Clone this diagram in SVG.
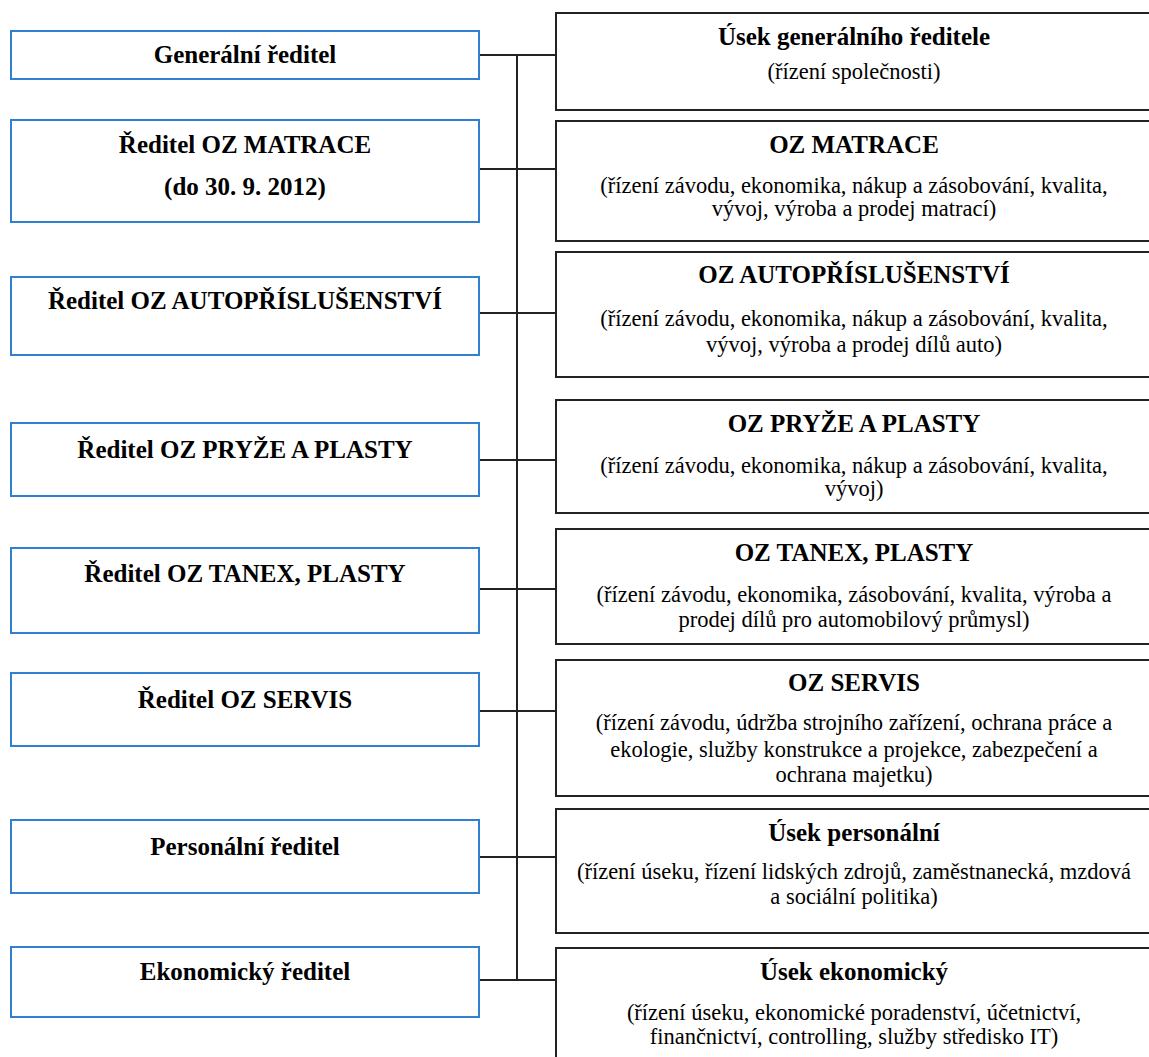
<svg xmlns="http://www.w3.org/2000/svg" width="1149" height="1057" viewBox="0 0 1149 1057" font-family="'Liberation Serif', Tinos, 'Times New Roman', Times, serif">
<style>
.lbox{fill:#fff;stroke:#2f80d2;stroke-width:2}
.rbox{fill:#fff;stroke:#222;stroke-width:2}
.conn{fill:none;stroke:#222;stroke-width:2}
text{font-family:'Liberation Serif', Tinos, 'Times New Roman', Times, serif;fill:#000;text-anchor:middle}
.t{font-weight:bold;font-size:25px}
.s{font-weight:normal;font-size:22.5px}
</style>
<rect width="1149" height="1057" fill="#fff"/>
<g id="connectors">
<line class="conn" x1="517" y1="55" x2="517" y2="980"/>
<line class="conn" x1="479" y1="55" x2="556" y2="55"/>
<line class="conn" x1="479" y1="169" x2="556" y2="169"/>
<line class="conn" x1="479" y1="313" x2="556" y2="313"/>
<line class="conn" x1="479" y1="460" x2="556" y2="460"/>
<line class="conn" x1="479" y1="589" x2="556" y2="589"/>
<line class="conn" x1="479" y1="711" x2="556" y2="711"/>
<line class="conn" x1="479" y1="857" x2="556" y2="857"/>
<line class="conn" x1="479" y1="980" x2="556" y2="980"/>
</g>
<g id="l1"><rect class="lbox" x="11" y="31" width="468" height="48"/><text class="t" x="245" y="63">Generální ředitel</text></g>
<g id="l2"><rect class="lbox" x="11" y="120" width="468" height="102"/><text class="t" x="245" y="153">Ředitel OZ MATRACE</text><text class="t" x="245" y="195">(do 30. 9. 2012)</text></g>
<g id="l3"><rect class="lbox" x="11" y="277" width="468" height="78"/><text class="t" x="245" y="309">Ředitel OZ AUTOPŘÍSLUŠENSTVÍ</text></g>
<g id="l4"><rect class="lbox" x="11" y="423" width="468" height="73"/><text class="t" x="245" y="458">Ředitel OZ PRYŽE A PLASTY</text></g>
<g id="l5"><rect class="lbox" x="11" y="548" width="468" height="85"/><text class="t" x="245" y="582">Ředitel OZ TANEX, PLASTY</text></g>
<g id="l6"><rect class="lbox" x="11" y="673" width="468" height="73"/><text class="t" x="245" y="708">Ředitel OZ SERVIS</text></g>
<g id="l7"><rect class="lbox" x="11" y="820" width="468" height="73"/><text class="t" x="245" y="855">Personální ředitel</text></g>
<g id="l8"><rect class="lbox" x="11" y="947" width="468" height="70"/><text class="t" x="245" y="980">Ekonomický ředitel</text></g>
<g id="r1"><rect class="rbox" x="556" y="13" width="600" height="97"/><text class="t" x="854" y="45">Úsek generálního ředitele</text><text class="s" x="854" y="79">(řízení společnosti)</text></g>
<g id="r2"><rect class="rbox" x="556" y="121" width="600" height="120"/><text class="t" x="854" y="153">OZ MATRACE</text><text class="s" x="854" y="193">(řízení závodu, ekonomika, nákup a zásobování, kvalita,</text><text class="s" x="854" y="216">vývoj, výroba a prodej matrací)</text></g>
<g id="r3"><rect class="rbox" x="556" y="252" width="600" height="125"/><text class="t" x="854" y="283">OZ AUTOPŘÍSLUŠENSTVÍ</text><text class="s" x="854" y="326">(řízení závodu, ekonomika, nákup a zásobování, kvalita,</text><text class="s" x="854" y="352">vývoj, výroba a prodej dílů auto)</text></g>
<g id="r4"><rect class="rbox" x="556" y="400" width="600" height="113"/><text class="t" x="854" y="432">OZ PRYŽE A PLASTY</text><text class="s" x="854" y="473">(řízení závodu, ekonomika, nákup a zásobování, kvalita,</text><text class="s" x="854" y="496">vývoj)</text></g>
<g id="r5"><rect class="rbox" x="556" y="529" width="600" height="115"/><text class="t" x="854" y="561">OZ TANEX, PLASTY</text><text class="s" x="854" y="602">(řízení závodu, ekonomika, zásobování, kvalita, výroba a</text><text class="s" x="854" y="627">prodej dílů pro automobilový průmysl)</text></g>
<g id="r6"><rect class="rbox" x="556" y="660" width="600" height="136"/><text class="t" x="854" y="691">OZ SERVIS</text><text class="s" x="854" y="730">(řízení závodu, údržba strojního zařízení, ochrana práce a</text><text class="s" x="854" y="757">ekologie, služby konstrukce a projekce, zabezpečení a</text><text class="s" x="854" y="782">ochrana majetku)</text></g>
<g id="r7"><rect class="rbox" x="556" y="809" width="600" height="124"/><text class="t" x="854" y="841">Úsek personální</text><text class="s" x="854" y="879">(řízení úseku, řízení lidských zdrojů, zaměstnanecká, mzdová</text><text class="s" x="854" y="904">a sociální politika)</text></g>
<g id="r8"><rect class="rbox" x="556" y="948" width="600" height="120"/><text class="t" x="854" y="980">Úsek ekonomický</text><text class="s" x="854" y="1020">(řízení úseku, ekonomické poradenství, účetnictví,</text><text class="s" x="854" y="1044">finančnictví, controlling, služby středisko IT)</text></g>
</svg>
